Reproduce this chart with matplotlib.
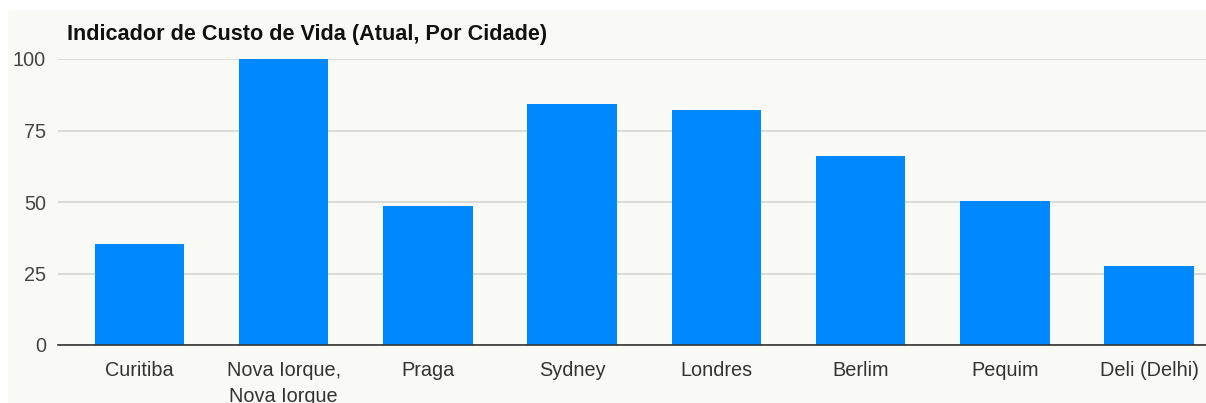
import matplotlib
matplotlib.use("Agg")
import matplotlib.pyplot as plt
from matplotlib.patches import Rectangle

cities = ["Curitiba", "Nova Iorque,\nNova Iorque", "Praga", "Sydney", "Londres",
          "Berlim", "Pequim", "Deli (Delhi)"]
values = [35.3, 100, 48.6, 84.3, 82.2, 66.1, 50.3, 27.6]
yticks = [0, 25, 50, 75, 100]
title = "Indicador de Custo de Vida (Atual, Por Cidade)"

plt.rcParams['font.family'] = ['Liberation Sans', 'DejaVu Sans']

fig = plt.figure(figsize=(12.06, 4.03), dpi=100)
fig.patch.set_facecolor('white')
bg = Rectangle((8/1206, 0), 1 - 8/1206, 1 - 10/403, transform=fig.transFigure,
               facecolor='#f9f9f6', edgecolor='none', zorder=-10)
fig.patches.append(bg)

ax = fig.add_axes([58/1206, 58/403, 1148/1206, 286/403])
ax.set_zorder(5)
ax.set_facecolor('none')
x = list(range(len(cities)))
ax.bar(x, values, width=0.62, color='#0088fe', zorder=3)
ax.set_xlim(-0.565, 7.395)
ax.set_ylim(0, 100)
ax.set_yticks(yticks)
ax.set_xticks(x)
ax.set_xticklabels(cities, fontsize=14.3, color='#333333', linespacing=1.5)
ax.set_yticklabels([str(t) for t in yticks], fontsize=14.3, color='#444444')
ax.tick_params(axis='both', length=0)
ax.tick_params(axis='y', pad=8.6)
ax.tick_params(axis='x', pad=11.5)
for s in ['top', 'right', 'left']:
    ax.spines[s].set_visible(False)
ax.spines['bottom'].set_color('#333333')
ax.spines['bottom'].set_linewidth(1.2)
ax.spines['bottom'].set_zorder(4)
ax.yaxis.grid(True, color='#d4d4d4', linewidth=1.2, zorder=1)
ax.set_axisbelow(True)

fig.text(67/1206, 1 - 40/403, title, fontsize=15.6, fontweight='bold',
         color='#111111', ha='left', va='baseline', zorder=6)

fig.savefig("out.png", dpi=100)
